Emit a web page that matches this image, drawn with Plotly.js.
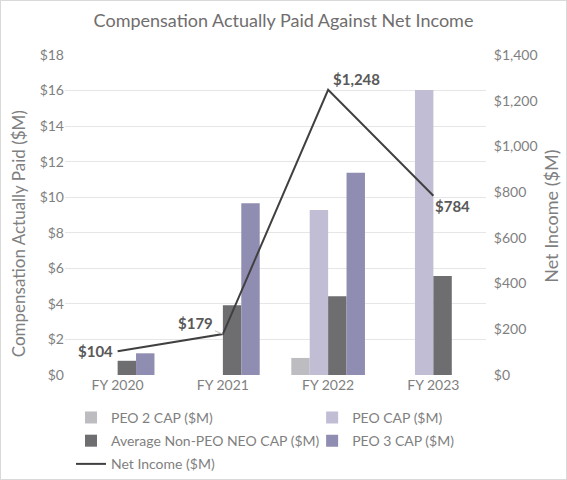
<!DOCTYPE html>
<html>
<head>
<meta charset="utf-8">
<script src="https://cdn.plot.ly/plotly-3.0.1.min.js"></script>
<style>
  body { margin: 0; background: #fff; }
  #chart { width: 565px; height: 478px; border: 1px solid #d9d9d9; }
</style>
</head>
<body>
<div id="chart"></div>
<script>
// Fiscal years on the x axis
const years = ['FY 2020', 'FY 2021', 'FY 2022', 'FY 2023'];

// Compensation actually paid, $M (left axis)
const peo2Cap = [null, null, 0.96, null];
const peoCap = [null, null, 9.28, 16.03];
const avgNeoCap = [0.80, 3.92, 4.43, 5.57];
const peo3Cap = [1.22, 9.66, 11.38, null];

// Net income, $M (right axis)
const netIncome = [104, 179, 1248, 784];

const grey = '#7f7f7f';

// legend: first column uses "legend", second column "legend2"
function barTrace(name, values, color, legendId) {
    return {
        type: 'bar', name: name, x: years, y: values,
        marker: { color: color }, hoverinfo: 'skip',
        legend: legendId, legendgroup: name
    };
}

const traces = [
    barTrace('PEO 2 CAP ($M)', peo2Cap, '#bdbcc1', 'legend'),
    barTrace('PEO CAP ($M)', peoCap, '#c0bdd5', 'legend2'),
    barTrace('Average Non-PEO NEO CAP ($M)', avgNeoCap, '#6e6e70', 'legend'),
    barTrace('PEO 3 CAP ($M)', peo3Cap, '#8f8db1', 'legend2'),
    {
        type: 'scatter', mode: 'lines', name: 'Net Income ($M)',
        x: years, y: netIncome, yaxis: 'y2',
        line: { color: '#404040', width: 2 },
        legend: 'legend', legendgroup: 'net'
    }
];

// data labels for the net income line, one placement per point
const labelPlace = [
    { xanchor: 'right', xshift: -3, yshift: 0 },
    { xanchor: 'center', ax: -27, ay: -11, arrow: true },
    { xanchor: 'left', xshift: 3, yshift: 11 },
    { xanchor: 'left', xshift: 0, yshift: -10 }
];

const annotations = netIncome.map((v, i) => {
    const p = labelPlace[i];
    const a = {
        x: years[i], y: v, xref: 'x', yref: 'y2',
        text: '$' + v.toLocaleString('en-US'),
        font: { family: 'Lato', size: 15, color: '#595959', weight: 'bold' },
        xanchor: p.xanchor, yanchor: 'middle',
        showarrow: false
    };
    if (p.arrow) {
        a.showarrow = true;
        a.ax = p.ax; a.ay = p.ay;
        a.arrowhead = 0; a.arrowwidth = 1; a.arrowcolor = '#bfbfbf';
        a.standoff = 0;
    } else {
        a.xshift = p.xshift; a.yshift = p.yshift;
    }
    return a;
});

// axis titles as annotations so they can sit where the reference has them
annotations.push({
    xref: 'paper', yref: 'paper', x: -0.1116, y: 0.44,
    text: 'Compensation Actually Paid ($M)', textangle: -90, showarrow: false,
    xanchor: 'center', yanchor: 'middle',
    font: { family: 'Lato', size: 17, color: grey }
});
annotations.push({
    xref: 'paper', yref: 'paper', x: 1.154, y: 0.497,
    text: 'Net Income ($M)', textangle: -90, showarrow: false,
    xanchor: 'center', yanchor: 'middle',
    font: { family: 'Lato', size: 18, color: grey }
});

const legendBase = {
    orientation: 'v', xanchor: 'left', y: -0.084, yanchor: 'top',
    tracegroupgap: 2, traceorder: 'grouped',
    font: { family: 'Lato', size: 14, color: grey },
    bgcolor: 'rgba(0,0,0,0)'
};

const layout = {
    width: 565, height: 478,
    margin: { l: 64, r: 80, t: 54, b: 104, autoexpand: false },
    font: { family: 'Lato', color: grey, size: 13 },
    paper_bgcolor: '#fff', plot_bgcolor: '#fff',
    title: {
        text: 'Compensation Actually Paid Against Net Income',
        font: { family: 'Lato', size: 18, color: '#706d6d' },
        x: 0.5, xanchor: 'center', y: 0.958, yanchor: 'middle'
    },
    barmode: 'group', bargap: 0.3, bargroupgap: 0,
    showlegend: true,
    legend: Object.assign({}, legendBase, { x: 0.0143 }),
    legend2: Object.assign({}, legendBase, { x: 0.587 }),
    xaxis: {
        type: 'category', showline: false, ticks: '',
        tickfont: { size: 14, color: grey }, fixedrange: true
    },
    yaxis: {
        range: [0, 18], dtick: 2, tickprefix: '$',
        gridcolor: '#e6e6e6', zeroline: false, showline: false,
        ticks: '', tickfont: { size: 14, color: grey }
    },
    yaxis2: {
        overlaying: 'y', side: 'right', range: [0, 1400], dtick: 200,
        tickformat: '$,.0f', showgrid: false, zeroline: false, showline: false,
        ticks: 'outside', ticklen: 4, tickcolor: '#fff',
        tickfont: { size: 14, color: grey }
    },
    annotations: annotations
};

Plotly.newPlot('chart', traces, layout, { displayModeBar: false, staticPlot: true });
</script>
</body>
</html>
